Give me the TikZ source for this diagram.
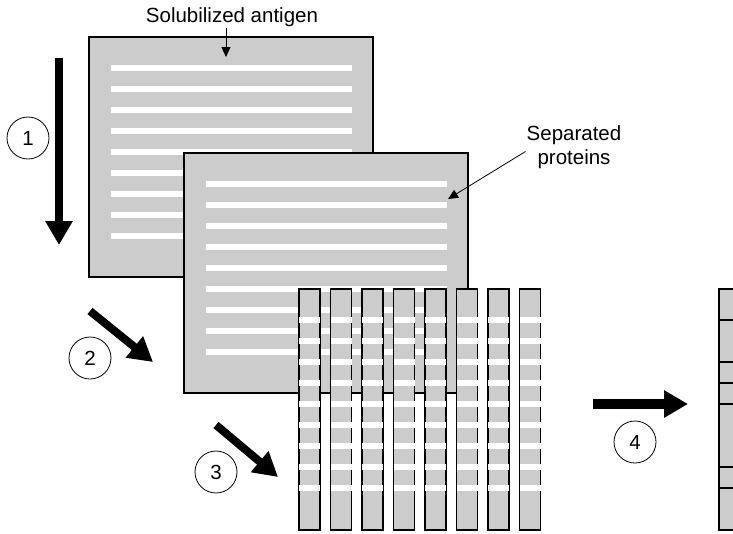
\documentclass[tikz,border=0pt]{standalone}
\usepackage{fontspec}
\setmainfont{Liberation Sans}
\usepackage{xcolor}
\usepackage{tikz}
\usetikzlibrary{positioning,arrows.meta,calc}

\definecolor{gelgray}{HTML}{CCCCCC}

\begin{document}
\begin{tikzpicture}[
		x=1pt, y=-1pt,
		font=\fontsize{20.5}{24}\selectfont,
		gel/.style={draw, line width=1.3pt, fill=gelgray, anchor=north west,
			inner sep=0, outer sep=0, minimum width=284pt, minimum height=240pt},
		strip/.style={draw, line width=1.5pt, fill=gelgray, anchor=north west,
			inner sep=0, outer sep=0, minimum width=21pt, minimum height=241pt},
		num/.style={circle, draw, line width=0.8pt, minimum size=42pt, inner sep=0},
		bigarr/.style={line width=8pt, -{Triangle[length=24pt, width=26pt]}},
		lbl/.style={-{Triangle[length=10pt, width=9pt]}, line width=0.8pt}
		]
		\useasboundingbox (0,0) rectangle (733,533);
		% gels
		\node[gel] (gelA) at (89,37) {};
		\foreach \j in {0,...,8}
		\fill[white] ($(gelA.north west)+(22,28+21*\j)$) rectangle ++(241,6);
		\node[gel] (gelB) at (184,153) {};
		\foreach \j in {0,...,8}
		\fill[white] ($(gelB.north west)+(22,28+21*\j)$) rectangle ++(241,6);
		% strips
		\foreach \k in {0,...,7} {
			\node[strip] (strip\k) at (299+31.5*\k,289) {};
			\foreach \j in {0,...,8}
			\fill[white] ($(strip\k.north west)+(0,28+21*\j)$) rectangle ++(21,6);
		}
		\begin{scope}
			\clip (0,0) rectangle (733,533);
			\node[strip, minimum width=30pt] (blot) at (719,289) {};
			\foreach \y in {31,73,94,115,178,199}
			\draw[line width=2.5pt] ($(blot.north west)+(0,\y)$) -- ++(30,0);
		\end{scope}
		% steps
		\coordinate (s1a) at (59,58);
		\coordinate (s1b) at (59,245);
		\coordinate (s2a) at (90,311);
		\coordinate (s2b) at (153,362);
		\coordinate (s3a) at (216,425);
		\coordinate (s3b) at (278,477);
		\coordinate (s4a) at (593,404);
		\coordinate (s4b) at (688,404);
		\draw[bigarr] (s1a) -- (s1b);
		\draw[bigarr] (s2a) -- (s2b);
		\draw[bigarr] (s3a) -- (s3b);
		\draw[bigarr, line width=10pt] (s4a) -- (s4b);
		\node[num] (n1) at (28,138) {1};
		\node[num] (n2) at (90,358) {2};
		\node[num] (n3) at (216,472) {3};
		\node[num] (n4) at (635,442) {4};
		% labels
		\node[anchor=base, inner sep=2pt] (solAg) at (232,22) {Solubilized antigen};
		\coordinate (solTip) at (226,57);
		\draw[lbl] (solAg.south -| solTip) -- (solTip);
		\node[align=center, inner sep=1pt] (sepProt) at (574,147.5)
		{Separated\\proteins};
		\coordinate (sepTip) at (448,199);
		\draw[lbl] ([yshift=-4pt]sepProt.west) -- (sepTip);
	\end{tikzpicture}
\end{document}
